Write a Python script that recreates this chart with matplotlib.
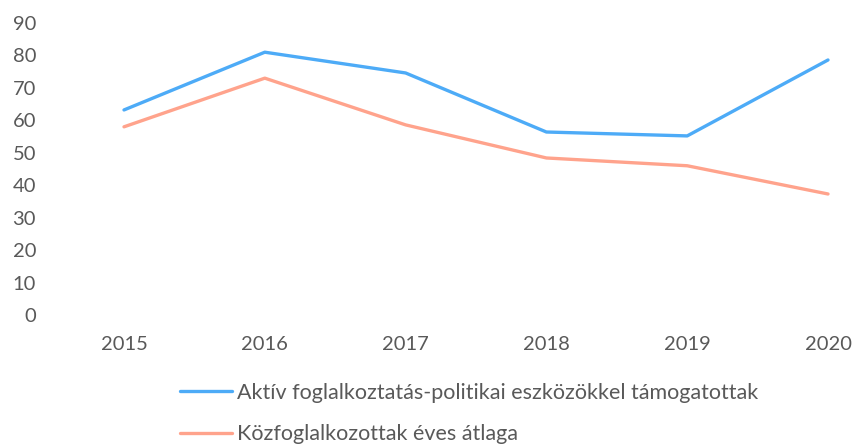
import matplotlib
matplotlib.use("Agg")
import matplotlib.pyplot as plt

# chart data
years = ["2015", "2016", "2017", "2018", "2019", "2020"]
aktiv = [63.2, 81.0, 74.6, 56.4, 55.2, 78.6]
kozfog = [58.0, 73.0, 58.6, 48.4, 46.0, 37.3]
labels = ["Aktív foglalkoztatás-politikai eszközökkel támogatottak",
          "Közfoglalkozottak éves átlaga"]
yticks = list(range(0, 100, 10))

text_col = "#595959"
blue = "#4DABF7"
salmon = "#FFA38C"

plt.rcParams["font.family"] = ["Lato", "DejaVu Sans"]

W, H = 858, 447
fig = plt.figure(figsize=(W / 100, H / 100), dpi=100)
# axes placed in pixel terms: y=0 at 315px, y=90 at 23px from top
left_px, right_px = 50, 858
top_px, bot_px = 23, 315
ax = fig.add_axes([left_px / W, (H - bot_px) / H,
                   (right_px - left_px) / W, (bot_px - top_px) / H])

x = list(range(len(years)))
ax.plot(x, aktiv, color=blue, lw=2.4, solid_capstyle="round", label=labels[0])
ax.plot(x, kozfog, color=salmon, lw=2.4, solid_capstyle="round", label=labels[1])

step = 140.8
x0 = (left_px - 124) / step
x1 = (right_px - 124) / step
ax.set_xlim(x0, x1)
ax.set_ylim(0, 90)
ax.set_xticks(x)
ax.set_xticklabels(years)
ax.set_yticks(yticks)

for s in ax.spines.values():
    s.set_visible(False)
ax.tick_params(axis="both", length=0, colors=text_col, labelsize=14.5)
ax.tick_params(axis="y", pad=10)
ax.tick_params(axis="x", pad=15)

fig.legend(loc="upper left", bbox_to_anchor=(171 / W, 1 - 374 / H),
           frameon=False, fontsize=15.5, handlelength=2.45, handletextpad=0.23,
           labelspacing=1.0, labelcolor=text_col, borderaxespad=0)

fig.savefig("out.png", dpi=100)
